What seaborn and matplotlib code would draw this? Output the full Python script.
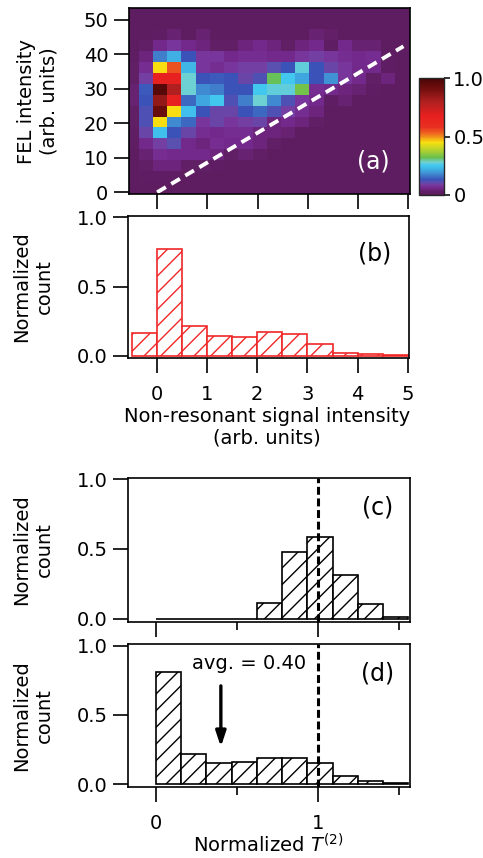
import matplotlib
matplotlib.use("Agg")
import numpy as np
import matplotlib.pyplot as plt
from matplotlib.colors import LinearSegmentedColormap, Normalize
from matplotlib.ticker import FixedLocator
import seaborn as sns

# ---------------- data ----------------
# (a) 2D map: bin edges and normalized counts (rows listed from top to bottom)
map_x_edges = [-0.65, -0.367, -0.084, 0.199, 0.482, 0.765, 1.048, 1.331, 1.614, 1.897,
               2.18, 2.463, 2.746, 3.029, 3.312, 3.595, 3.878, 4.161, 4.444, 4.727, 5.06]
map_y_edges = [-0.6, 2.93, 6.10, 9.27, 12.44, 15.61, 18.78, 21.95, 25.12, 28.29,
               31.46, 34.63, 37.80, 40.97, 44.14, 47.31, 50.48, 53.8]
map_rows_top_down = [
    [.015, .015, .015, .015, .015, .015, .015, .015, .015, .015, .015, .015, .015, .015, .015, .015, .015, .015, .015, .015],
    [.015, .015, .015, .015, .015, .015, .015, .015, .015, .015, .015, .015, .015, .015, .015, .015, .015, .015, .015, .015],
    [.015, .015, .02, .04, .015, .04, .015, .015, .015, .015, .015, .015, .015, .04, .035, .015, .015, .015, .015, .015],
    [.015, .03, .06, .08, .06, .05, .03, .03, .05, .06, .05, .03, .05, .06, .02, .06, .04, .04, .015, .015],
    [.02, .05, .17, .22, .13, .08, .08, .06, .07, .07, .06, .06, .08, .09, .08, .07, .06, .07, .02, .015],
    [.03, .07, .45, .55, .23, .08, .07, .08, .09, .09, .11, .13, .27, .13, .10, .08, .06, .06, .02, .015],
    [.03, .09, .68, .68, .28, .13, .14, .13, .10, .12, .32, .25, .21, .13, .19, .08, .06, .03, .05, .015],
    [.04, .14, .97, .80, .28, .18, .17, .13, .13, .25, .27, .27, .33, .07, .06, .05, .04, .02, .015, .015],
    [.04, .13, .85, .68, .15, .21, .25, .12, .17, .28, .18, .12, .08, .06, .02, .04, .015, .015, .015, .015],
    [.03, .12, .93, .45, .24, .13, .10, .10, .13, .15, .12, .09, .07, .05, .015, .015, .015, .015, .015, .015],
    [.03, .12, .45, .18, .15, .08, .10, .08, .09, .10, .05, .06, .05, .03, .015, .015, .015, .015, .015, .015],
    [.02, .10, .24, .13, .10, .07, .06, .07, .07, .05, .05, .04, .015, .015, .015, .015, .015, .015, .015, .015],
    [.02, .06, .09, .11, .06, .05, .07, .06, .06, .05, .03, .015, .015, .015, .015, .015, .015, .015, .015, .015],
    [.015, .04, .07, .06, .06, .06, .05, .03, .04, .03, .015, .015, .015, .015, .015, .015, .015, .015, .015, .015],
    [.015, .03, .05, .05, .03, .03, .02, .015, .015, .015, .015, .015, .015, .015, .015, .015, .015, .015, .015, .015],
    [.015, .02, .02, .02, .015, .015, .015, .015, .015, .015, .015, .015, .015, .015, .015, .015, .015, .015, .015, .015],
    [.015, .015, .015, .015, .015, .015, .015, .015, .015, .015, .015, .015, .015, .015, .015, .015, .015, .015, .015, .015],
]

# (b) non-resonant signal histogram
nr_edges = [-0.5, 0.0, 0.5, 1.0, 1.5, 2.0, 2.5, 3.0, 3.5, 4.0, 4.5, 5.0]
nr_counts = [0.166, 0.771, 0.217, 0.145, 0.135, 0.169, 0.154, 0.082, 0.022, 0.010, 0.004]

# (c), (d) normalized T(2) histograms
t_edges = [0.0, 0.1555, 0.311, 0.4665, 0.622, 0.7775, 0.933, 1.0885, 1.244, 1.3995, 1.555]
t_counts_c = [0.0, 0.0, 0.0, 0.0, 0.115, 0.476, 0.585, 0.310, 0.102, 0.015]
t_counts_d = [0.8125, 0.221, 0.151, 0.159, 0.192, 0.1875, 0.154, 0.058, 0.020, 0.008]
t_average = 0.40

# ---------------- style ----------------
sns.set_style("ticks")
plt.rcParams["font.family"] = ["DejaVu Sans"]
plt.rcParams["hatch.linewidth"] = 1.0
for key in ["text.color", "axes.labelcolor", "xtick.color", "ytick.color",
            "xtick.labelcolor", "ytick.labelcolor"]:
    plt.rcParams[key] = "black"
FS = 14

W, H = 483, 858
fig = plt.figure(figsize=(W / 100, H / 100), dpi=100)


def px_axes(left, top, right, bottom):
    return fig.add_axes([left / W, 1 - bottom / H, (right - left) / W, (bottom - top) / H])


ax_a = px_axes(128.5, 8, 410, 194)
cax = px_axes(419.3, 78.3, 444.3, 195)
ax_b = px_axes(127.7, 216, 409.3, 358.3)
ax_c = px_axes(128, 477.7, 410, 621.7)
ax_d = px_axes(128, 644.3, 410, 787.3)

rainbow = LinearSegmentedColormap.from_list("spec", [
    (0.00, "#5a1c5c"), (0.03, "#621f66"), (0.06, "#74288c"), (0.085, "#7a3aa0"),
    (0.11, "#5a50b0"), (0.13, "#3a52b8"), (0.17, "#4080cc"), (0.21, "#40a8e0"),
    (0.25, "#40c8f0"), (0.28, "#70d0d0"), (0.32, "#68c050"), (0.38, "#b0d030"),
    (0.45, "#f8e010"), (0.52, "#f07020"), (0.58, "#e83020"), (0.68, "#e82020"),
    (0.80, "#b02020"), (0.90, "#781010"), (1.00, "#4a0505")])

# ---------------- (a) 2D map ----------------
vals = np.array(map_rows_top_down[::-1])
mesh = ax_a.pcolormesh(map_x_edges, map_y_edges, vals, cmap=rainbow,
                       norm=Normalize(0, 1), shading="flat", linewidth=0)
cbar = fig.colorbar(mesh, cax=cax)
ax_a.plot([0, 4.9], [0, 42.3], color="white", lw=2.8, dashes=(2.6, 1.6))
ax_a.set_xlim(-0.57, 5.03)
ax_a.set_ylim(-0.5, 53.4)
ax_a.set_xticks([0, 1, 2, 3, 4, 5])
ax_a.set_xticklabels([])
ax_a.set_yticks([0, 10, 20, 30, 40, 50])
ax_a.text(4.3, 9.0, "(a)", color="white", fontsize=17, ha="center", va="center")

cbar.set_ticks([0, 0.5, 1.0])
cbar.set_ticklabels(["0", "0.5", "1.0"])
cax.tick_params(axis="y", length=4.5, width=1.1, labelsize=FS, pad=2, direction="out")
cbar.outline.set_linewidth(1.0)

# ---------------- (b) ----------------
nr_centers = [(nr_edges[i] + nr_edges[i + 1]) / 2 for i in range(len(nr_counts))]
sns.histplot(x=nr_centers, weights=nr_counts, bins=nr_edges, ax=ax_b,
             facecolor="white", edgecolor="#f02828", hatch="//", linewidth=1.2, alpha=1)
ax_b.set_xlim(-0.58, 5.03)
ax_b.set_ylim(-0.019, 1.01)
ax_b.set_xticks([0, 1, 2, 3, 4, 5])
ax_b.set_yticks([0, 0.5, 1.0])
ax_b.set_yticklabels(["0.0", "0.5", "1.0"])
ax_b.set_xlabel("")
ax_b.set_ylabel("")
ax_b.text(4.34, 0.74, "(b)", fontsize=17, ha="center", va="center")

# ---------------- (c), (d) ----------------
t_centers = [(t_edges[i] + t_edges[i + 1]) / 2 for i in range(len(t_counts_c))]
for ax, counts, tag in [(ax_c, t_counts_c, "(c)"), (ax_d, t_counts_d, "(d)")]:
    sns.histplot(x=t_centers, weights=counts, bins=t_edges, ax=ax,
                 facecolor="white", edgecolor="black", hatch="//", linewidth=1.2, alpha=1)
    ax.axvline(1.0, color="black", lw=2.2, dashes=(2.6, 1.2))
    ax.set_xlim(-0.172, 1.565)
    ax.set_ylim(-0.022, 1.01)
    ax.set_xticks([0, 1])
    ax.xaxis.set_minor_locator(FixedLocator([0.5, 1.5]))
    ax.set_yticks([0, 0.5, 1.0])
    ax.set_yticklabels(["0.0", "0.5", "1.0"])
    ax.set_xlabel("")
    ax.set_ylabel("")
    ax.text(1.366, 0.80, tag, fontsize=17, ha="center", va="center")
ax_c.set_xticklabels([])
ax_d.set_xticklabels(["0", "1"])

ax_d.annotate("", xy=(t_average, 0.25), xytext=(t_average, 0.73),
              arrowprops=dict(arrowstyle="-|>,head_length=0.9,head_width=0.3",
                              color="black", lw=2.4))
ax_d.text(0.573, 0.87, "avg. = %.2f" % t_average, fontsize=FS, ha="center", va="center")

# ---------------- common axis cosmetics ----------------
for ax in [ax_a, ax_b, ax_c, ax_d]:
    for s in ax.spines.values():
        s.set_visible(True)
        s.set_linewidth(1.2)
        s.set_color("black")
    ax.tick_params(axis="both", which="major", direction="out", length=10.5, width=1.2,
                   labelsize=FS, color="black")
    ax.tick_params(axis="y", pad=4)
    ax.tick_params(axis="x", pad=9)
    ax.tick_params(axis="x", which="minor", direction="out", length=5.5, width=1.2)

# ---------------- axis titles ----------------
fig.text(38 / W, 1 - 101 / H, "FEL intensity\n(arb. units)", rotation=90,
         ha="center", va="center", fontsize=FS, linespacing=1.25)
for yc_px in [287, 549.7, 715.8]:
    fig.text(33 / W, 1 - yc_px / H, "Normalized\ncount", rotation=90,
             ha="center", va="center", fontsize=FS, linespacing=1.25)
fig.text(267 / W, 1 - 427 / H, "Non-resonant signal intensity\n(arb. units)",
         ha="center", va="center", fontsize=FS, linespacing=1.15)
fig.text(268 / W, 1 - 852.5 / H, r"Normalized $T^{(2)}$",
         ha="center", va="baseline", fontsize=FS)

fig.savefig("out.png", dpi=100)
